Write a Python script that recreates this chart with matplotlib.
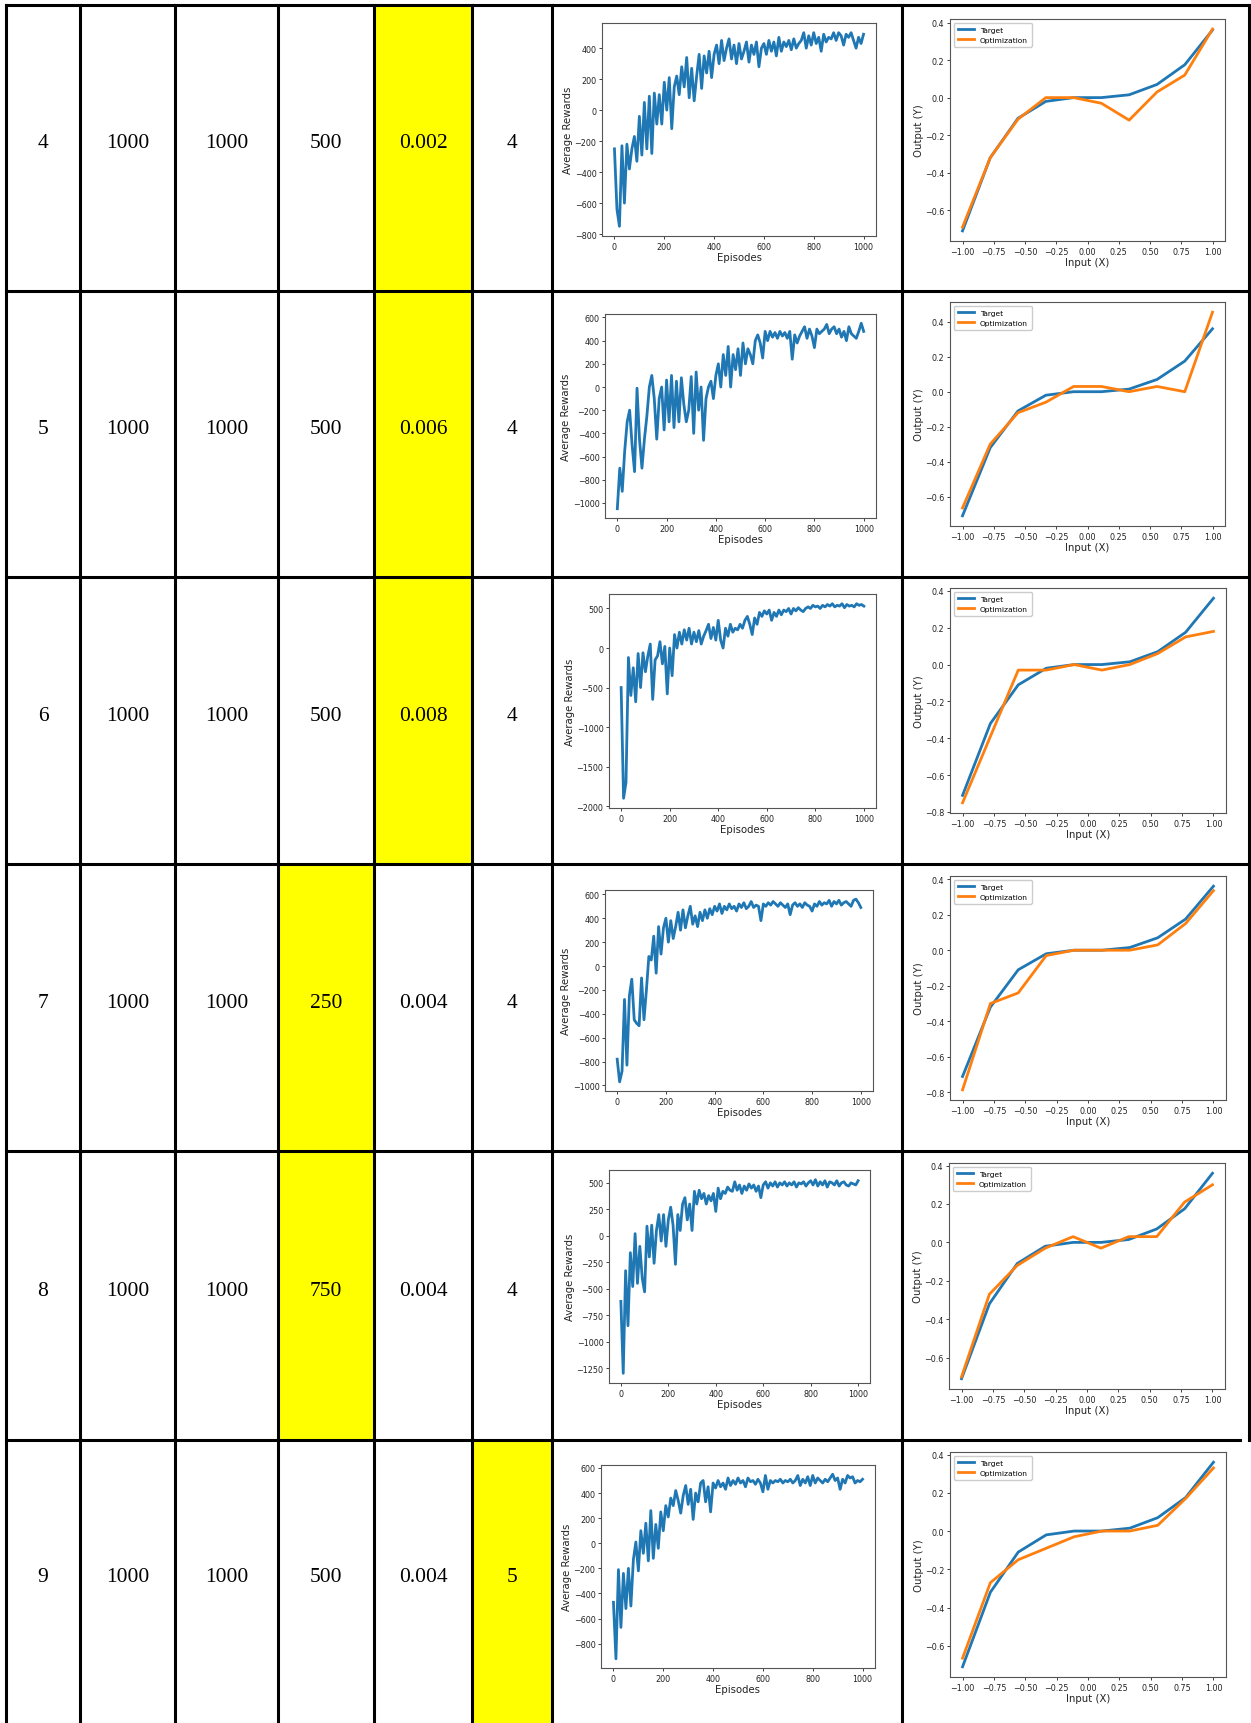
import numpy as np
import matplotlib.pyplot as plt
from matplotlib.ticker import MultipleLocator

W, H = 1251, 1724

# table cells
run_no = ['4', '5', '6', '7', '8', '9']
col_b = ['1000', '1000', '1000', '1000', '1000', '1000']
col_c = ['1000', '1000', '1000', '1000', '1000', '1000']
col_d = ['500', '500', '500', '250', '750', '500']
col_e = ['0.002', '0.006', '0.008', '0.004', '0.004', '0.004']
col_f = ['4', '4', '4', '4', '4', '5']
yellow_col = [4, 4, 4, 3, 3, 5]

# average rewards, one value every 10 episodes
r4 = [-250, -640, -750, -230, -600, -220, -380, -250, -170, -330,
      -40, -290, 50, -250, 90, -280, 110, -90, 100, -90,
      180, 0, 210, -120, 150, 220, 100, 280, 150, 340,
      80, 270, 60, 220, 360, 140, 350, 240, 380, 210,
      360, 420, 300, 450, 320, 400, 460, 330, 420, 300,
      430, 330, 380, 440, 310, 420, 360, 440, 280, 400,
      430, 360, 450, 380, 440, 350, 470, 380, 440, 410,
      450, 390, 460, 400, 430, 450, 500, 400, 480, 420,
      500, 430, 470, 380, 490, 440, 470, 460, 500, 450,
      500, 480, 420, 490, 470, 500, 450, 400, 470, 430, 490]
r5 = [-1050, -700, -900, -550, -300, -200, -500, -730, -10, -450,
      -700, -450, -250, 0, 100, -100, -450, -100, 0, -370,
      60, -300, 100, -350, 50, -300, 80, -150, -300, -200,
      90, -400, 130, -200, 0, -460, -100, 0, 50, -100,
      100, 200, 0, 280, 100, 350, 0, 280, 150, 330,
      100, 380, 200, 330, 280, 200, 400, 450, 380, 250,
      480, 400, 480, 430, 470, 420, 480, 440, 470, 420,
      480, 240, 450, 380, 440, 480, 520, 420, 500, 440,
      340, 500, 460, 480, 500, 540, 460, 500, 520, 460,
      500, 430, 480, 400, 520, 460, 440, 420, 480, 550, 480]
r6 = [-500, -1900, -1700, -120, -600, -250, -680, -70, -500, -60,
      -300, -100, 50, -650, -150, -100, 80, -200, 20, -580,
      0, -350, 170, 0, 200, 50, 230, 100, 250, 50,
      200, 80, 220, 50, 150, 220, 300, 120, 260, 100,
      350, 100, 0, 250, 150, 300, 200, 250, 230, 300,
      250, 350, 400, 300, 170, 380, 300, 450, 400, 470,
      430, 480, 350, 450, 400, 480, 420, 480, 460, 500,
      430, 500, 470, 510, 480, 460, 500, 520, 500, 540,
      520, 530, 500, 540, 520, 550, 530, 560, 520, 540,
      530, 560, 510, 550, 530, 540, 520, 560, 540, 550, 530]
r7 = [-780, -970, -880, -280, -830, -250, -110, -450, -480, -500,
      -100, -450, -200, 80, 50, 250, -60, 330, 100, 320,
      400, 200, 380, 230, 330, 450, 300, 470, 320, 420,
      500, 350, 420, 330, 450, 380, 470, 400, 480, 430,
      500, 460, 520, 440, 500, 470, 520, 480, 500, 460,
      520, 490, 530, 480, 500, 540, 490, 510, 500, 380,
      520, 500, 530, 510, 540, 520, 500, 530, 510, 490,
      520, 430, 510, 530, 500, 520, 490, 530, 510, 500,
      460, 520, 500, 540, 510, 530, 520, 550, 500, 540,
      520, 550, 510, 530, 540, 520, 500, 550, 560, 530, 490]
r8 = [-620, -1300, -330, -850, -160, -480, 20, -450, -100, -400,
      -530, 90, -200, 100, -260, 50, 200, -50, 200, -100,
      150, 270, 100, -270, 200, 50, 300, 360, 150, 300,
      50, 420, 300, 430, 350, 400, 300, 380, 330, 400,
      230, 450, 350, 420, 400, 460, 430, 420, 510, 430,
      480, 400, 470, 430, 490, 450, 480, 420, 470, 360,
      480, 510, 450, 500, 470, 510, 460, 500, 480, 510,
      470, 500, 480, 510, 460, 500, 490, 510, 470, 500,
      520, 480, 530, 470, 510, 480, 520, 460, 510, 500,
      480, 520, 470, 500, 510, 480, 470, 500, 490, 480, 520]
r9 = [-470, -920, -210, -670, -240, -520, -200, -500, -130, 10,
      -220, 100, -80, 160, -140, 260, -120, 150, -40, 250,
      100, 300, 210, 360, 300, 420, 340, 240, 380, 460,
      310, 430, 190, 400, 330, 480, 500, 330, 450, 250,
      480, 440, 500, 450, 480, 430, 520, 460, 500, 470,
      520, 480, 500, 450, 520, 490, 500, 470, 510, 480,
      410, 540, 430, 500, 480, 500, 490, 510, 480, 500,
      490, 510, 480, 500, 540, 460, 510, 480, 530, 460,
      540, 480, 520, 500, 480, 510, 490, 520, 550, 500,
      520, 430, 510, 480, 540, 520, 530, 480, 500, 490, 510]
rewards = [r4, r5, r6, r7, r8, r9]
reward_step = [200, 200, 500, 200, 250, 200]

# target vs optimization
x_in = [-1.0, -0.778, -0.556, -0.333, -0.111, 0.111, 0.333, 0.556, 0.778, 1.0]
target = [-0.71, -0.32, -0.11, -0.02, 0.0, 0.0, 0.015, 0.07, 0.175, 0.36]
opt4 = [-0.69, -0.32, -0.115, 0.0, 0.0, -0.03, -0.12, 0.03, 0.12, 0.365]
opt5 = [-0.665, -0.30, -0.12, -0.06, 0.03, 0.03, 0.0, 0.03, 0.0, 0.455]
opt6 = [-0.75, -0.39, -0.03, -0.03, 0.0, -0.03, 0.0, 0.06, 0.15, 0.18]
opt7 = [-0.785, -0.30, -0.24, -0.03, 0.0, 0.0, 0.0, 0.03, 0.15, 0.335]
opt8 = [-0.70, -0.27, -0.12, -0.03, 0.03, -0.03, 0.03, 0.03, 0.21, 0.30]
opt9 = [-0.665, -0.27, -0.15, -0.09, -0.03, 0.0, 0.0, 0.03, 0.17, 0.33]
opts = [opt4, opt5, opt6, opt7, opt8, opt9]

# layout in pixels
col_x = [6, 80, 175, 278, 374, 472, 552, 902, 1249]
row_y = [6, 292, 578, 865, 1152, 1441, 1724]
reward_box = [(602, 24, 876, 237), (605, 315, 876, 519), (609, 595, 876, 809),
              (605, 891, 873, 1092), (609, 1171, 870, 1384), (601, 1466, 875, 1669)]
output_box = [(950, 20, 1225, 242), (950, 303, 1225, 527), (950, 589, 1226, 814),
              (950, 877, 1226, 1101), (949, 1164, 1225, 1390), (950, 1453, 1226, 1678)]


def rect(b):
    l, t, r, bt = b
    return [l / W, 1 - bt / H, (r - l) / W, (bt - t) / H]


def style(ax):
    for s in ax.spines.values():
        s.set_color('#555555')
        s.set_linewidth(0.8)
    ax.tick_params(labelsize=5.8, length=2.5, width=0.6, pad=1.5, colors='#222222')


fig = plt.figure(figsize=(W / 100, H / 100), dpi=100)
base = fig.add_axes([0, 0, 1, 1])
base.set_xlim(0, W)
base.set_ylim(H, 0)
base.axis('off')

cols = [run_no, col_b, col_c, col_d, col_e, col_f]
for i in range(6):
    y0, y1 = row_y[i], row_y[i + 1]
    c = yellow_col[i]
    base.fill_between([col_x[c], col_x[c + 1]], y0, y1, color='#ffff00', lw=0)
    for j in range(6):
        base.text((col_x[j] + col_x[j + 1]) / 2, (y0 + y1) / 2 - 5, cols[j][i],
                  ha='center', va='center', fontsize=15.5, family='Liberation Serif')

lw = 2.2
for k, y in enumerate(row_y[:-1]):
    base.plot([col_x[0], col_x[-1] if k < 5 else 1240], [y, y], color='black', lw=lw,
              solid_capstyle='projecting')
for k, x in enumerate(col_x):
    base.plot([x, x], [row_y[0], H if k < 8 else row_y[5]], color='black', lw=lw,
              solid_capstyle='projecting')

for i in range(6):
    ax = fig.add_axes(rect(reward_box[i]))
    ep = np.linspace(0, 1000, len(rewards[i]))
    ax.plot(ep, rewards[i], color='#1f77b4', lw=2.0)
    ax.xaxis.set_major_locator(MultipleLocator(200))
    ax.yaxis.set_major_locator(MultipleLocator(reward_step[i]))
    ax.set_xlabel('Episodes', fontsize=7.3, labelpad=1, color='#222222')
    ax.set_ylabel('Average Rewards', fontsize=7.3, labelpad=1, color='#222222')
    style(ax)

    ax2 = fig.add_axes(rect(output_box[i]))
    ax2.plot(x_in, target, color='#1f77b4', lw=2, label='Target')
    ax2.plot(x_in, opts[i], color='#ff7f0e', lw=2, label='Optimization')
    ax2.xaxis.set_major_locator(MultipleLocator(0.25))
    ax2.yaxis.set_major_locator(MultipleLocator(0.2))
    ax2.set_xlabel('Input (X)', fontsize=7.3, labelpad=1, color='#222222')
    ax2.set_ylabel('Output (Y)', fontsize=7.3, labelpad=1, color='#222222')
    ax2.legend(loc='upper left', fontsize=5.4, handlelength=2.2, borderpad=0.5,
               labelspacing=0.5, framealpha=1, edgecolor='#cccccc')
    style(ax2)

plt.savefig('out.png', dpi=100)
